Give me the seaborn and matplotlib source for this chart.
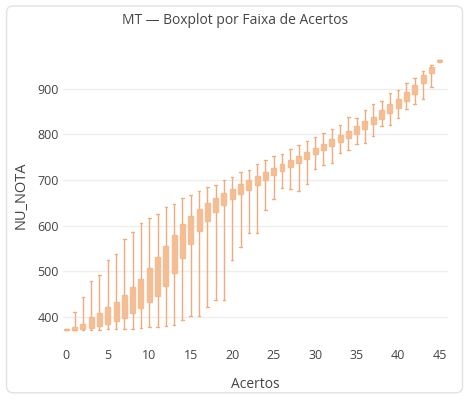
import matplotlib
matplotlib.use("Agg")
import matplotlib.pyplot as plt
import pandas as pd
import seaborn as sns
from matplotlib.patches import FancyBboxPatch

# valores (estatisticas por numero de acertos)
acertos = list(range(46))
whisker_low = [370, 370, 371, 371, 371, 372, 372, 373, 373, 375, 377, 378, 380, 382, 392, 402,
               401, 420, 437, 437, 525, 552, 583, 583, 634, 658, 683, 681, 676, 692, 725, 733,
               738, 759, 766, 780, 782, 796, 818, 821, 835, 855, 867, 877, 905, 960]
q1 = [370, 370, 373, 376, 380, 384, 390, 397, 408, 418, 431, 446, 467, 495, 529, 560,
      589, 611, 630, 644, 658, 670, 679, 690, 700, 710, 719, 728, 738, 746, 756, 765,
      774, 783, 793, 802, 813, 823, 834, 846, 859, 873, 888, 913, 936, 961]
median = [371, 373, 378, 385, 393, 401, 410, 420, 435, 449, 467, 487, 510, 537, 566, 590,
          612, 630, 646, 657, 669, 681, 690, 700, 709, 718, 727, 736, 745, 754, 763, 772,
          781, 790, 800, 810, 821, 830, 843, 856, 868, 883, 898, 922, 941, 962]
q3 = [372, 377, 384, 399, 408, 421, 432, 447, 465, 483, 506, 531, 555, 580, 603, 621,
      637, 649, 661, 671, 681, 692, 700, 709, 718, 727, 736, 744, 753, 762, 771, 780,
      789, 799, 808, 818, 829, 838, 853, 866, 878, 894, 909, 931, 947, 963]
whisker_high = [373, 410, 442, 478, 492, 524, 538, 571, 586, 605, 616, 626, 640, 647, 660, 667,
                676, 684, 690, 700, 707, 717, 722, 735, 744, 753, 758, 767, 777, 786, 795, 803,
                812, 821, 838, 836, 854, 867, 874, 890, 898, 913, 924, 939, 953, 964]

# cinco pontos por grupo -> quartis exatos com interpolacao linear
rows = []
for a, lo, a1, md, a3, hi in zip(acertos, whisker_low, q1, median, q3, whisker_high):
    for v in (lo, a1, md, a3, hi):
        rows.append({"Acertos": a, "NU_NOTA": v})
df = pd.DataFrame(rows)

sns.set_theme(style="white")
plt.rcParams["font.family"] = ["Open Sans", "DejaVu Sans"]

fill = "#f4bd93"
line = "#f0ac7f"

fig = plt.figure(figsize=(4.7, 4.0), dpi=100)
ax = fig.add_axes([0.134, 0.1425, 0.819, 0.74])

# moldura arredondada do cartao
card = FancyBboxPatch((0.014, 0.018), 0.970, 0.967, boxstyle="round,pad=0,rounding_size=0.015",
                      transform=fig.transFigure, facecolor="none", edgecolor="#e2e2e2",
                      linewidth=1.0, zorder=-5)
fig.patches.append(card)

ax.yaxis.grid(True, color="#eeeeee", linewidth=1.0, zorder=0)
ax.set_axisbelow(True)

sns.boxplot(data=df, x="Acertos", y="NU_NOTA", native_scale=True, ax=ax,
            color=fill, saturation=1, width=0.6, whis=(0, 100), linecolor=line,
            linewidth=1.0, showfliers=False, capwidths=0.3,
            boxprops=dict(edgecolor=fill), medianprops=dict(color=fill))

ax.set_xlim(-0.4, 46)
ax.set_ylim(342, 992)
ax.set_xticks(range(0, 46, 5))
ax.set_yticks(range(400, 901, 100))
for s in ax.spines.values():
    s.set_visible(False)
ax.tick_params(axis="both", length=0, labelsize=9, colors="#444444")
ax.tick_params(axis="y", pad=3)
ax.tick_params(axis="x", pad=4)
ax.set_xlabel("Acertos", fontsize=10, color="#444444", labelpad=11)
ax.set_ylabel("NU_NOTA", fontsize=10.5, color="#444444", labelpad=6)
fig.suptitle("MT — Boxplot por Faixa de Acertos", x=0.5, y=0.968, fontsize=10, color="#444444")

fig.savefig("out.png", dpi=100)
